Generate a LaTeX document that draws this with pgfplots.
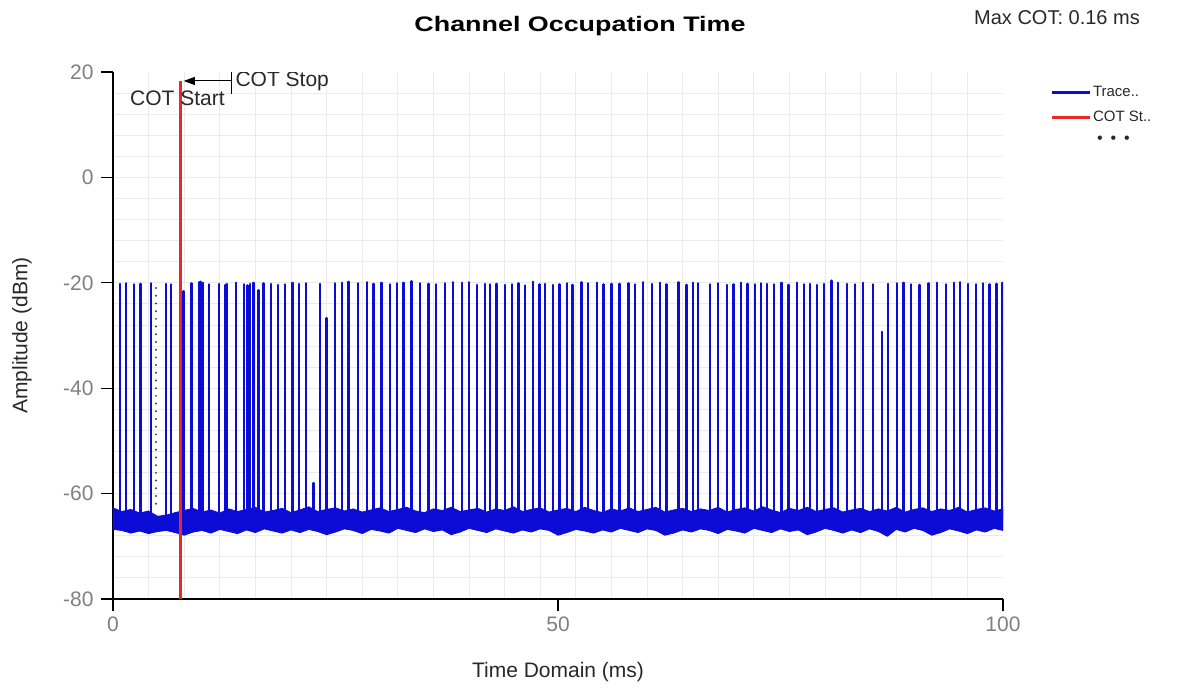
\documentclass[border=0pt]{standalone}
\usepackage{fontspec}
\setmainfont{Liberation Sans}
\newfontfamily\titlefont[FakeStretch=1.28,BoldFont={Liberation Sans Bold}]{Liberation Sans}
\usepackage{pgfplots}
\pgfplotsset{compat=1.18}
\usetikzlibrary{arrows.meta}
\definecolor{traceblue}{RGB}{12,12,215}
\definecolor{cotred}{RGB}{235,40,40}
\definecolor{ticklab}{RGB}{128,128,128}
\definecolor{txt}{RGB}{40,40,40}
\begin{document}
\begin{tikzpicture}[x=1pt,y=1pt]
\useasboundingbox (0pt,0pt) rectangle (1181pt,688pt);
\begin{axis}[
  at={(113pt,89pt)}, anchor=south west,
  scale only axis, width=890pt, height=527pt,
  xmin=0, xmax=100, ymin=-80, ymax=20,
  axis lines*=left,
  axis line style={black, line width=1.1pt},
  xtick={0,50,100}, xticklabels={0,50,100},
  ytick={-80,-60,-40,-20,0,20}, yticklabels={-80,-60,-40,-20,0,20},
  minor xtick={4,8,...,96}, minor ytick={-76,-72,...,16},
  minor tick length=0pt,
  tick align=outside, major tick length=12pt,
  tick style={black, line width=1.1pt},
  grid=minor, minor grid style={black!8, line width=0.9pt},
  tick label style={font=\fontsize{21}{21}\selectfont, text=ticklab},
  xticklabel style={yshift=-2pt},
  yticklabel style={xshift=-4pt},
  xlabel={Time Domain (ms)}, ylabel={Amplitude (dBm)},
  every axis x label/.style={at={(axis description cs:0.5,-0.1385)}, anchor=center, font=\fontsize{21}{21}\selectfont, text=txt},
  every axis y label/.style={at={(axis description cs:-0.1022,0.5)}, rotate=90, anchor=center, font=\fontsize{21}{21}\selectfont, text=txt},
  title={Channel Occupation Time},
  title style={at={(axis description cs:0.5247,1.0760)}, anchor=center, font=\titlefont\fontsize{21}{21}\selectfont\bfseries, text=black},
  legend style={at={(1.0526,0.977)}, anchor=north west, draw=none, fill=none,
    font=\fontsize{15}{15}\selectfont, text=txt, row sep=9pt, inner sep=0pt,
    /tikz/every even column/.append style={column sep=7pt}},
  legend image code/.code={\draw[line width=3pt] (0pt,0pt) -- (38pt,0pt);},
  legend cell align=left,
]
% noise floor band
\addplot[forget plot, draw=traceblue, fill=traceblue, line width=0.8pt, line join=round] coordinates {
(0,-62.7)(1,-63.4)(2,-63.0)(3,-63.7)(4,-63.3)(5,-64.3)(6,-64.1)(7,-63.6)(8,-63.2)(9,-62.8)
(10,-63.5)(11,-63.1)(12,-63.7)(13,-62.9)(14,-63.4)(15,-63.0)(16,-62.6)(17,-63.5)(18,-63.2)(19,-62.8)
(20,-63.6)(21,-63.1)(22,-62.5)(23,-63.4)(24,-63.0)(25,-62.7)(26,-63.3)(27,-62.9)(28,-63.5)(29,-63.1)
(30,-62.7)(31,-63.4)(32,-63.0)(33,-62.6)(34,-63.3)(35,-63.6)(36,-62.9)(37,-63.2)(38,-62.6)(39,-63.4)
(40,-63.1)(41,-62.8)(42,-63.5)(43,-62.9)(44,-63.2)(45,-62.5)(46,-63.4)(47,-63.0)(48,-62.7)(49,-63.5)
(50,-63.1)(51,-62.8)(52,-63.4)(53,-62.6)(54,-63.2)(55,-63.6)(56,-62.9)(57,-63.3)(58,-62.7)(59,-63.4)
(60,-63.0)(61,-62.6)(62,-63.5)(63,-63.1)(64,-62.8)(65,-63.4)(66,-62.9)(67,-63.2)(68,-62.6)(69,-63.5)
(70,-63.0)(71,-62.7)(72,-63.3)(73,-62.5)(74,-63.1)(75,-63.6)(76,-62.8)(77,-63.2)(78,-62.6)(79,-63.4)
(80,-63.0)(81,-62.7)(82,-63.5)(83,-63.1)(84,-62.8)(85,-63.4)(86,-62.9)(87,-63.3)(88,-62.6)(89,-63.5)
(90,-63.0)(91,-62.7)(92,-63.4)(93,-62.9)(94,-63.2)(95,-62.6)(96,-63.5)(97,-63.0)(98,-62.7)(99,-63.3)
(100,-62.9)
(100,-67.0)(99,-66.6)(98,-67.3)(97,-66.9)(96,-67.6)(95,-67.1)(94,-66.7)(93,-67.4)(92,-67.9)(91,-67.0)
(90,-66.6)(89,-67.3)(88,-66.8)(87,-68.1)(86,-67.2)(85,-66.7)(84,-67.4)(83,-66.9)(82,-67.5)(81,-67.0)
(80,-66.6)(79,-67.3)(78,-67.8)(77,-66.9)(76,-67.2)(75,-66.7)(74,-67.4)(73,-67.0)(72,-66.6)(71,-67.5)
(70,-67.1)(69,-66.8)(68,-67.6)(67,-67.0)(66,-66.7)(65,-67.3)(64,-66.9)(63,-67.5)(62,-67.9)(61,-67.0)
(60,-66.7)(59,-67.4)(58,-67.0)(57,-66.6)(56,-67.3)(55,-66.9)(54,-67.5)(53,-67.1)(52,-66.8)(51,-67.4)
(50,-67.9)(49,-67.0)(48,-66.7)(47,-67.3)(46,-66.9)(45,-67.5)(44,-67.1)(43,-66.7)(42,-67.4)(41,-67.0)
(40,-66.6)(39,-67.3)(38,-67.8)(37,-66.9)(36,-67.2)(35,-66.7)(34,-67.4)(33,-67.0)(32,-66.6)(31,-67.5)
(30,-67.1)(29,-66.8)(28,-67.6)(27,-67.0)(26,-66.7)(25,-67.3)(24,-67.8)(23,-67.2)(22,-66.8)(21,-67.4)
(20,-66.9)(19,-67.5)(18,-67.1)(17,-66.7)(16,-67.4)(15,-66.9)(14,-67.6)(13,-67.2)(12,-66.8)(11,-67.5)
(10,-67.0)(9,-67.3)(8,-67.9)(7,-67.4)(6,-67.0)(5,-67.2)(4,-67.6)(3,-67.1)(2,-67.5)(1,-67.0)(0,-66.8)
} -- cycle;
% dotted marker line
\addplot[forget plot, black!75, line width=2.2pt, line cap=round, dash pattern=on 0pt off 7.7pt] coordinates {(4.83,-21)(4.83,-62.7)};
% spikes (trace)
\addplot[traceblue, line width=2.4pt, line join=round, sharp plot] coordinates {
(0.79,-64.5)(0.79,-20.2)(0.79,-64.5)
(1.46,-64.5)(1.46,-20.1)(1.46,-64.5)
(2.39,-64.5)(2.39,-20.3)(2.39,-64.5)
(3.11,-64.5)(3.11,-20.2)(3.11,-64.5)
(4.24,-64.5)(4.24,-20.1)(4.24,-64.5)
(5.98,-64.5)(5.98,-20.2)(5.98,-64.5)
(6.55,-64.5)(6.55,-20.3)(6.55,-64.5)
(7.90,-64.5)(7.90,-21.6)(7.90,-64.5)
(8.80,-64.5)(8.80,-20.1)(8.80,-64.5)
(9.66,-64.5)(9.66,-19.9)(9.66,-64.5)
(9.85,-64.5)(9.85,-19.8)(9.85,-64.5)
(10.08,-64.5)(10.08,-20.0)(10.08,-64.5)
(10.80,-64.5)(10.80,-20.3)(10.80,-64.5)
(11.90,-64.5)(11.90,-20.2)(11.90,-64.5)
(12.65,-64.5)(12.65,-20.4)(12.65,-64.5)
(12.78,-64.5)(12.78,-20.2)(12.78,-64.5)
(13.80,-64.5)(13.80,-20.0)(13.80,-64.5)
(14.70,-64.5)(14.70,-20.3)(14.70,-64.5)
(15.10,-64.5)(15.10,-20.5)(15.10,-64.5)
(15.38,-64.5)(15.38,-20.2)(15.38,-64.5)
(15.80,-64.5)(15.80,-20.0)(15.80,-64.5)
(16.37,-64.5)(16.37,-21.4)(16.37,-64.5)
(16.92,-64.5)(16.92,-20.1)(16.92,-64.5)
(17.75,-64.5)(17.75,-20.2)(17.75,-64.5)
(18.57,-64.5)(18.57,-20.4)(18.57,-64.5)
(19.33,-64.5)(19.33,-20.3)(19.33,-64.5)
(20.19,-64.5)(20.19,-20.0)(20.19,-64.5)
(20.93,-64.5)(20.93,-20.2)(20.93,-64.5)
(21.69,-64.5)(21.69,-20.1)(21.69,-64.5)
(22.51,-64.5)(22.51,-58.0)(22.51,-64.5)
(23.26,-64.5)(23.26,-20.2)(23.26,-64.5)
(24.01,-64.5)(24.01,-26.7)(24.01,-64.5)
(24.94,-64.5)(24.94,-20.1)(24.94,-64.5)
(25.70,-64.5)(25.70,-20.0)(25.70,-64.5)
(26.44,-64.5)(26.44,-19.8)(26.44,-64.5)
(27.56,-64.5)(27.56,-20.1)(27.56,-64.5)
(28.51,-64.5)(28.51,-19.9)(28.51,-64.5)
(29.25,-64.5)(29.25,-20.2)(29.25,-64.5)
(30.19,-64.5)(30.19,-20.0)(30.19,-64.5)
(31.12,-64.5)(31.12,-20.3)(31.12,-64.5)
(31.88,-64.5)(31.88,-20.1)(31.88,-64.5)
(32.62,-64.5)(32.62,-20.0)(32.62,-64.5)
(33.56,-64.5)(33.56,-19.7)(33.56,-64.5)
(34.49,-64.5)(34.49,-20.1)(34.49,-64.5)
(35.43,-64.5)(35.43,-20.2)(35.43,-64.5)
(36.29,-64.5)(36.29,-20.3)(36.29,-64.5)
(37.30,-64.5)(37.30,-20.1)(37.30,-64.5)
(38.17,-64.5)(38.17,-19.9)(38.17,-64.5)
(39.18,-64.5)(39.18,-20.0)(39.18,-64.5)
(40.03,-64.5)(40.03,-19.9)(40.03,-64.5)
(40.93,-64.5)(40.93,-20.4)(40.93,-64.5)
(41.80,-64.5)(41.80,-20.2)(41.80,-64.5)
(42.36,-64.5)(42.36,-20.3)(42.36,-64.5)
(43.11,-64.5)(43.11,-20.2)(43.11,-64.5)
(44.04,-64.5)(44.04,-20.4)(44.04,-64.5)
(44.80,-64.5)(44.80,-20.3)(44.80,-64.5)
(45.54,-64.5)(45.54,-20.1)(45.54,-64.5)
(46.29,-64.5)(46.29,-20.5)(46.29,-64.5)
(47.22,-64.5)(47.22,-19.8)(47.22,-64.5)
(47.90,-64.5)(47.90,-20.3)(47.90,-64.5)
(48.54,-64.5)(48.54,-20.2)(48.54,-64.5)
(49.47,-64.5)(49.47,-20.4)(49.47,-64.5)
(50.15,-64.5)(50.15,-20.3)(50.15,-64.5)
(50.98,-64.5)(50.98,-20.1)(50.98,-64.5)
(51.65,-64.5)(51.65,-20.4)(51.65,-64.5)
(52.66,-64.5)(52.66,-19.9)(52.66,-64.5)
(53.40,-64.5)(53.40,-20.1)(53.40,-64.5)
(54.35,-64.5)(54.35,-20.0)(54.35,-64.5)
(55.09,-64.5)(55.09,-20.3)(55.09,-64.5)
(56.03,-64.5)(56.03,-20.2)(56.03,-64.5)
(56.89,-64.5)(56.89,-20.2)(56.89,-64.5)
(57.90,-64.5)(57.90,-20.1)(57.90,-64.5)
(58.65,-64.5)(58.65,-20.3)(58.65,-64.5)
(59.58,-64.5)(59.58,-19.9)(59.58,-64.5)
(60.53,-64.5)(60.53,-20.2)(60.53,-64.5)
(61.46,-64.5)(61.46,-20.0)(61.46,-64.5)
(62.21,-64.5)(62.21,-20.3)(62.21,-64.5)
(63.52,-64.5)(63.52,-19.9)(63.52,-64.5)
(64.46,-64.5)(64.46,-20.4)(64.46,-64.5)
(65.20,-64.5)(65.20,-20.0)(65.20,-64.5)
(65.76,-64.5)(65.76,-20.1)(65.76,-64.5)
(67.08,-64.5)(67.08,-20.3)(67.08,-64.5)
(68.01,-64.5)(68.01,-20.1)(68.01,-64.5)
(68.96,-64.5)(68.96,-20.4)(68.96,-64.5)
(69.70,-64.5)(69.70,-20.3)(69.70,-64.5)
(70.53,-64.5)(70.53,-20.0)(70.53,-64.5)
(71.27,-64.5)(71.27,-20.2)(71.27,-64.5)
(72.13,-64.5)(72.13,-20.3)(72.13,-64.5)
(72.78,-64.5)(72.78,-20.1)(72.78,-64.5)
(73.45,-64.5)(73.45,-20.2)(73.45,-64.5)
(74.27,-64.5)(74.27,-20.3)(74.27,-64.5)
(75.13,-64.5)(75.13,-20.0)(75.13,-64.5)
(75.88,-64.5)(75.88,-20.4)(75.88,-64.5)
(76.82,-64.5)(76.82,-20.0)(76.82,-64.5)
(77.64,-64.5)(77.64,-20.3)(77.64,-64.5)
(78.31,-64.5)(78.31,-20.2)(78.31,-64.5)
(79.13,-64.5)(79.13,-20.4)(79.13,-64.5)
(79.89,-64.5)(79.89,-20.2)(79.89,-64.5)
(80.75,-64.5)(80.75,-19.6)(80.75,-64.5)
(81.49,-64.5)(81.49,-20.0)(81.49,-64.5)
(82.44,-64.5)(82.44,-20.2)(82.44,-64.5)
(83.37,-64.5)(83.37,-20.3)(83.37,-64.5)
(84.30,-64.5)(84.30,-20.0)(84.30,-64.5)
(85.36,-64.5)(85.36,-20.3)(85.36,-64.5)
(86.37,-64.5)(86.37,-29.3)(86.37,-64.5)
(87.11,-64.5)(87.11,-20.2)(87.11,-64.5)
(88.06,-64.5)(88.06,-20.1)(88.06,-64.5)
(88.80,-64.5)(88.80,-20.0)(88.80,-64.5)
(89.63,-64.5)(89.63,-20.3)(89.63,-64.5)
(90.60,-64.5)(90.60,-20.4)(90.60,-64.5)
(91.61,-64.5)(91.61,-20.1)(91.61,-64.5)
(92.55,-64.5)(92.55,-20.0)(92.55,-64.5)
(93.60,-64.5)(93.60,-20.3)(93.60,-64.5)
(94.49,-64.5)(94.49,-20.0)(94.49,-64.5)
(95.17,-64.5)(95.17,-19.9)(95.17,-64.5)
(96.10,-64.5)(96.10,-20.2)(96.10,-64.5)
(96.97,-64.5)(96.97,-20.3)(96.97,-64.5)
(97.72,-64.5)(97.72,-20.1)(97.72,-64.5)
(98.46,-64.5)(98.46,-20.3)(98.46,-64.5)
(99.29,-64.5)(99.29,-20.2)(99.29,-64.5)
(99.95,-64.5)(99.95,-20.0)(99.95,-64.5)
};
\addlegendentry{Trace..}
% COT start line
\addplot[cotred, line width=3pt] coordinates {(7.53,-80)(7.53,18.2)};
\addlegendentry{COT St..}
\addlegendimage{empty legend}
\addlegendentry{\hspace{4pt}\fontsize{16}{16}\selectfont\textbullet\hspace{8pt}\textbullet\hspace{8pt}\textbullet}
% annotations
\draw[black, line width=1pt] (axis cs:13.37,20) -- (axis cs:13.37,15.9);
\draw[black, line width=1pt, -{Triangle[length=11pt,width=8pt]}] (axis cs:13.37,18.3) -- (axis cs:7.95,18.3);
\node[anchor=west, inner sep=0pt, text=txt, font=\fontsize{21}{21}\selectfont] at (axis cs:13.75,18.3) {COT Stop};
\node[anchor=west, inner sep=0pt, text=txt, font=\fontsize{21}{21}\selectfont] at (axis cs:1.9,15.0) {COT Start};
\end{axis}
\node[anchor=center, inner sep=0pt, text=txt, font=\fontsize{20}{20}\selectfont] at (1057pt,670pt) {Max COT: 0.16 ms};
\end{tikzpicture}
\end{document}
